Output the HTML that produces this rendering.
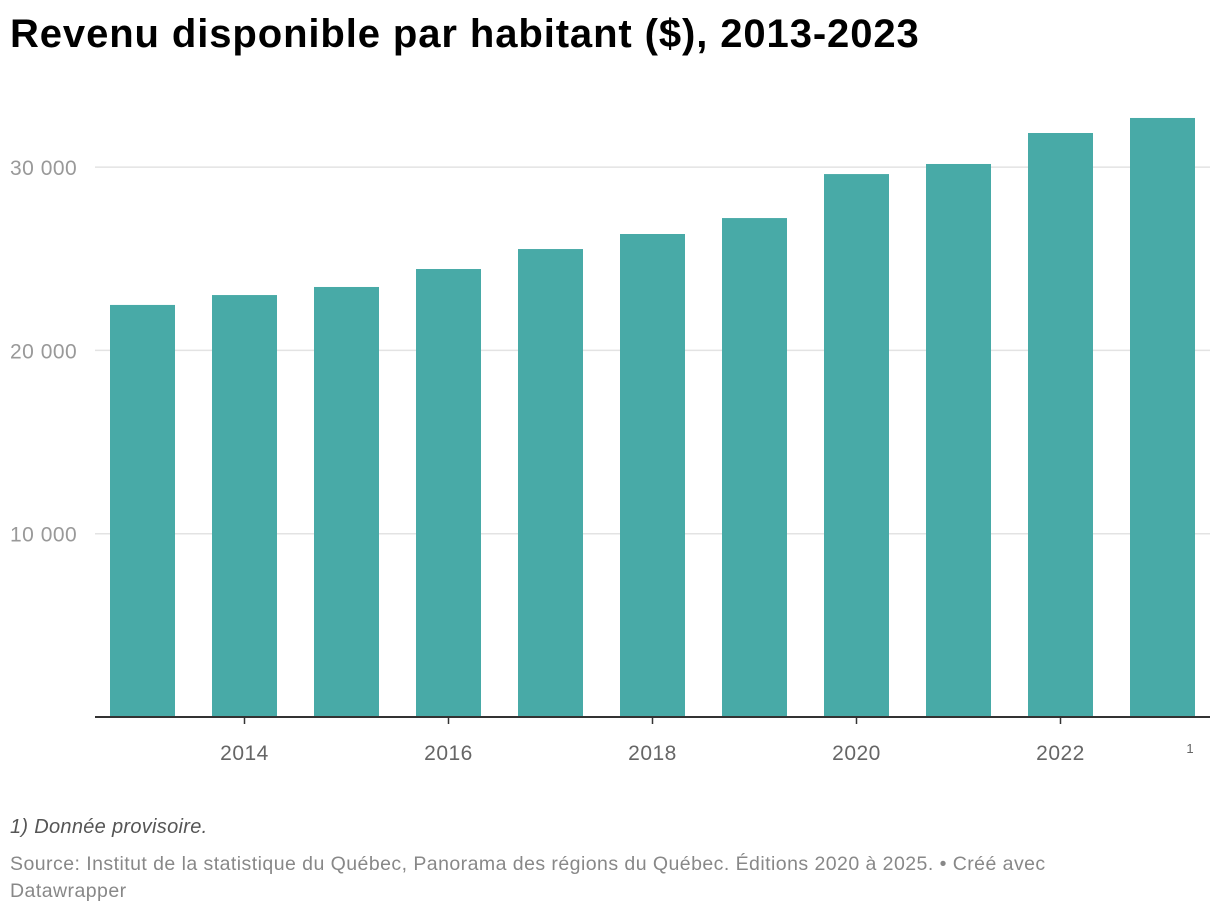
<!DOCTYPE html>
<html><head><meta charset="utf-8">
<style>
body{margin:0;width:1220px;height:914px;background:#fff;font-family:"Liberation Sans",sans-serif;overflow:hidden;position:relative}
#title{position:absolute;left:10px;top:12px;font-size:40px;font-weight:bold;color:#000;margin:0;letter-spacing:0.9px}
#note{position:absolute;left:10px;top:816px;font-size:20px;font-style:italic;color:#555;letter-spacing:0.3px}
#source{position:absolute;left:10px;top:851px;font-size:19.5px;color:#888;line-height:27px;width:1110px;letter-spacing:0.45px}
svg{position:absolute;left:0;top:0}
</style></head><body>
<h1 id="title">Revenu disponible par habitant ($), 2013-2023</h1>
<svg id="chart" width="1220" height="800"></svg>
<div id="note">1) Donnée provisoire.</div>
<div id="source">Source: Institut de la statistique du Québec, Panorama des régions du Québec. Éditions 2020 à 2025. • Créé avec Datawrapper</div>
<script>
const years=[2013,2014,2015,2016,2017,2018,2019,2020,2021,2022,2023];
const values=[22480,23020,23460,24440,25530,26350,27220,29620,30170,31860,32680];
const yTicks=[10000,20000,30000];
const yTickLabels=["10 000","20 000","30 000"];
const xTickYears=[2014,2016,2018,2020,2022];
const NS="http://www.w3.org/2000/svg";
const svg=document.getElementById('chart');
const y0=717,pxPer=183.3/10000;
const y=v=>y0-v*pxPer;
const x0=110,step=102,bw=65;
const x=i=>x0+i*step;
function mk(t,a){const e=document.createElementNS(NS,t);for(const k in a)e.setAttribute(k,a[k]);svg.appendChild(e);return e;}
yTicks.forEach((t,i)=>{
 const g=mk('line',{x1:95,x2:1210,y1:y(t),y2:y(t),stroke:'#e3e3e3','stroke-width':1.5});
 
 
 const l=mk('text',{x:10,y:y(t)+8,'font-size':21,fill:'#999','letter-spacing':0.5});
 l.textContent=yTickLabels[i];
 
 
});
values.forEach((v,i)=>{
 const r=mk('rect',{x:x(i),y:y(v),width:bw,height:y0-y(v),fill:'#48aaa7'});
 
 
});
const base=mk('line',{x1:95,x2:1210,y1:y0,y2:y0,stroke:'#333','stroke-width':2});


xTickYears.forEach(yr=>{
 const i=years.indexOf(yr);const cx=x(i)+bw/2;
 const t=mk('line',{x1:cx,x2:cx,y1:y0,y2:y0+7,stroke:'#333','stroke-width':1.5});
 
 
 const l=mk('text',{x:cx,y:760,'font-size':21,fill:'#666','text-anchor':'middle','letter-spacing':0.5});
 l.textContent=yr;
 
 
});
const sup=mk('text',{x:x(years.length-1)+60,y:753,'font-size':13,fill:'#666','text-anchor':'middle'});
sup.textContent='1';


</script>
</body></html>
